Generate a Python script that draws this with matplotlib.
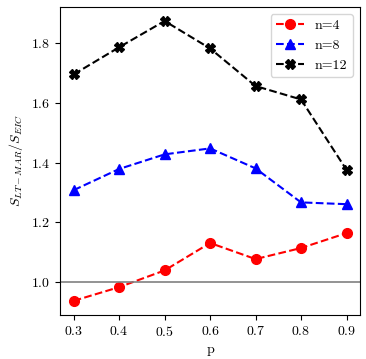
import matplotlib
matplotlib.use("Agg")
import matplotlib.pyplot as plt

# LaTeX 風のフォント
plt.rcParams['font.family'] = 'serif'
plt.rcParams['font.serif'] = ['cmr10']
plt.rcParams['mathtext.fontset'] = 'cm'
plt.rcParams['axes.formatter.use_mathtext'] = True

p_values = [0.3, 0.4, 0.5, 0.6, 0.7, 0.8, 0.9]
ratio_n4 = [0.937, 0.983, 1.039, 1.131, 1.077, 1.114, 1.164]
ratio_n8 = [1.308, 1.379, 1.428, 1.448, 1.381, 1.267, 1.261]
ratio_n12 = [1.696, 1.787, 1.875, 1.783, 1.657, 1.612, 1.376]

fig = plt.figure(figsize=(3.66, 3.59), dpi=100)
ax = fig.add_axes([0.164, 0.123, 0.82, 0.8575])

ax.plot(p_values, ratio_n4, 'o--', color='red', markersize=7, label='n=4')
ax.plot(p_values, ratio_n8, '^--', color='blue', markersize=7, label='n=8')
ax.plot(p_values, ratio_n12, 'X--', color='black', markersize=7, label='n=12')
ax.axhline(1.0, color='gray', linewidth=1.2)

ax.set_xlabel('p')
ax.set_ylabel(r'$S_{LT-MAR}/S_{EIC}$')
ax.legend(loc='upper right')

fig.savefig('out.png', dpi=100)
